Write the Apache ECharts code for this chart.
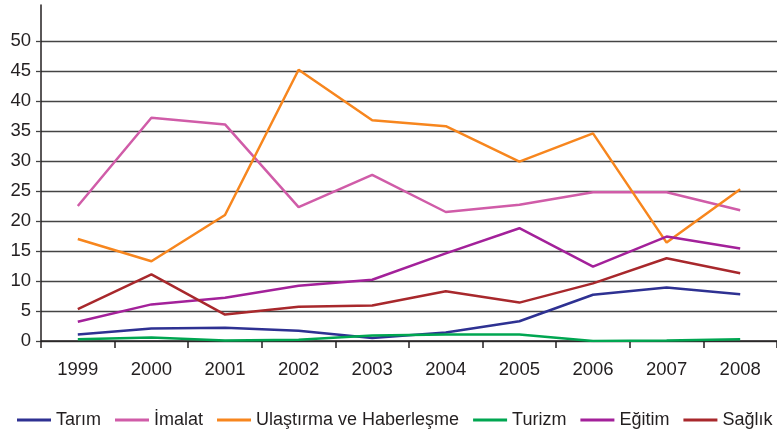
<!DOCTYPE html>
<html>
<head>
<meta charset="utf-8">
<script src="https://cdn.jsdelivr.net/npm/echarts@6/dist/echarts.min.js"></script>
<style>
  html, body { margin: 0; padding: 0; background: #fff; }
  #chart { width: 777px; height: 432px; }
</style>
</head>
<body>
<div id="chart"></div>
<script>
// yıllar
const years = ['1999', '2000', '2001', '2002', '2003', '2004', '2005', '2006', '2007', '2008'];
const yTicks = [0, 5, 10, 15, 20, 25, 30, 35, 40, 45, 50];

// sektör değerleri
const tarim     = [1.1, 2.1, 2.2, 1.7, 0.5, 1.4, 3.3, 7.7, 8.9, 7.8];
const imalat    = [22.5, 37.2, 36.1, 22.3, 27.7, 21.5, 22.7, 24.8, 24.8, 21.8];
const ulastirma = [17.0, 13.3, 21.0, 45.2, 36.8, 35.8, 29.9, 34.6, 16.4, 25.3];
const turizm    = [0.3, 0.6, 0.1, 0.2, 0.9, 1.1, 1.1, 0.0, 0.1, 0.3];
const egitim    = [3.2, 6.1, 7.2, 9.2, 10.2, 14.6, 18.8, 12.4, 17.4, 15.4];
const saglik    = [5.3, 11.1, 4.4, 5.7, 5.9, 8.3, 6.4, 9.6, 13.8, 11.3];

const seriesNames = ['Tarım', 'İmalat', 'Ulaştırma ve Haberleşme', 'Turizm', 'Eğitim', 'Sağlık'];
const seriesData = [tarim, imalat, ulastirma, turizm, egitim, saglik];
const colors = ['#2e3192', '#d05ca8', '#f7861e', '#00a651', '#a3219a', '#a8282c'];

const chart = echarts.init(document.getElementById('chart'));
const font = 'Liberation Sans, Arial, sans-serif';

const option = {
    animation: false,
    color: colors,
    textStyle: { fontFamily: font },
    grid: { left: 41, right: -3, top: 5, bottom: 91 },
    legend: {
        left: 17,
        top: 411,
        width: 760,
        padding: 0,
        icon: 'rect',
        itemWidth: 34,
        itemHeight: 3,
        itemGap: 14,
        textStyle: { fontSize: 18, color: '#231f20', fontFamily: font },
        data: seriesNames
    },
    xAxis: {
        type: 'category',
        data: years,
        boundaryGap: true,
        axisLine: { lineStyle: { color: '#231f20', width: 1.5 } },
        axisTick: { show: true, length: 7, inside: false, lineStyle: { color: '#231f20', width: 1.5 } },
        axisLabel: { fontSize: 18.5, color: '#231f20', margin: 19, fontFamily: font },
        splitLine: { show: false }
    },
    yAxis: {
        type: 'value',
        min: 0,
        max: 56,
        interval: 5,
        axisLine: { show: true, lineStyle: { color: '#231f20', width: 1.5 } },
        axisTick: { show: true, length: 5, customValues: yTicks, lineStyle: { color: '#444', width: 1.3 } },
        axisLabel: { fontSize: 18.5, color: '#231f20', margin: 10, customValues: yTicks, fontFamily: font },
        splitLine: { show: true, lineStyle: { color: '#444', width: 1.3 } }
    },
    series: seriesNames.map((name, i) => ({
        name: name,
        type: 'line',
        data: seriesData[i],
        symbol: 'none',
        smooth: false,
        lineStyle: { width: 2.5, color: colors[i] },
        itemStyle: { color: colors[i] }
    }))
};

chart.setOption(option);
</script>
</body>
</html>
